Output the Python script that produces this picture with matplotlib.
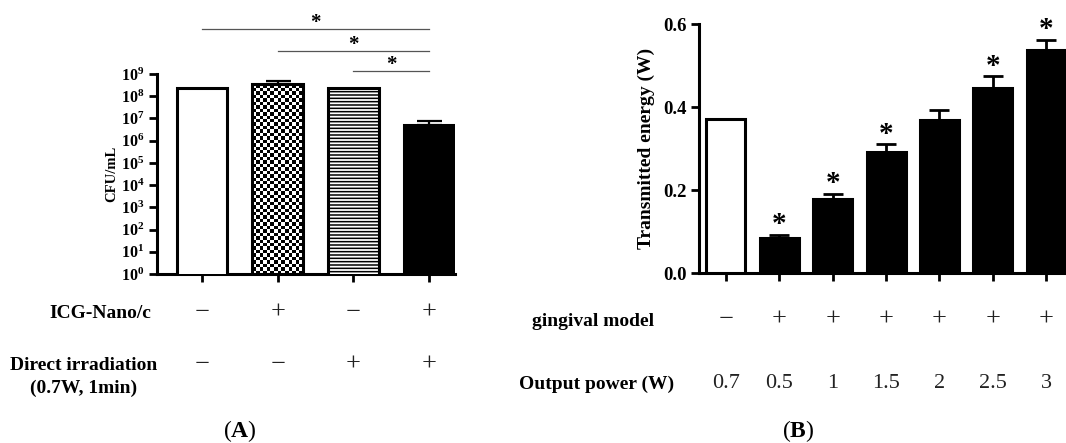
import numpy as np
import matplotlib
matplotlib.use('Agg')
import matplotlib.pyplot as plt
import matplotlib.transforms as mtransforms

plt.rcParams['font.family'] = ['Liberation Serif', 'DejaVu Serif']
plt.rcParams['mathtext.fontset'] = 'custom'
plt.rcParams['mathtext.rm'] = 'Liberation Serif:bold'
plt.rcParams['mathtext.it'] = 'Liberation Serif:bold:italic'
plt.rcParams['mathtext.bf'] = 'Liberation Serif:bold'
plt.rcParams['mathtext.default'] = 'rm'
plt.rcParams['hatch.linewidth'] = 1.1

# panel A data
groups_a = ['ctrl', 'ICG', 'irr', 'ICG+irr']
cfu = [2.3e8, 3.5e8, 2.3e8, 5.0e6]
cfu_err = [0, 1.3e8, 0, 3.0e6]
icg_row = ['\u2212', '+', '\u2212', '+']
irr_row = ['\u2212', '\u2212', '+', '+']
sig_pairs = [(0, 3), (1, 3), (2, 3)]
log_ticks = list(range(0, 10))

# panel B data
power = ['0.7', '0.5', '1', '1.5', '2', '2.5', '3']
energy = [0.371, 0.084, 0.178, 0.291, 0.369, 0.447, 0.537]
energy_err = [0, 0.008, 0.012, 0.019, 0.025, 0.027, 0.024]
gingival_row = ['\u2212', '+', '+', '+', '+', '+', '+']
star_b = [False, True, True, True, False, True, True]
yticks_b = [0.0, 0.2, 0.4, 0.6]

fig = plt.figure(figsize=(10.66, 4.43), dpi=100)


def style_axes(ax):
    for s in ['top', 'right']:
        ax.spines[s].set_visible(False)
    for s in ['left', 'bottom']:
        ax.spines[s].set_linewidth(2.2)
    ax.tick_params(axis='both', direction='out', width=2, length=5.5)
    ax.tick_params(axis='x', labelbottom=False)


# ---------------- (A) ----------------
axA = fig.add_axes([0.1473, 0.3815, 0.2795, 0.4515])
xa = np.arange(len(groups_a))
wa = 0.67
axA.set_yscale('log')
axA.set_ylim(1, 1e9)
axA.set_xlim(-0.594, 3.34)

# bar 1: open
axA.bar(xa[0], cfu[0], wa, color='white', edgecolor='black', linewidth=2.2, zorder=3)

# bar 2: checkerboard
outline = axA.bar(xa[1], cfu[1], wa, fill=False, edgecolor='black', linewidth=2.2, zorder=3)[0]
ncol = 14
xe = np.linspace(xa[1] - wa / 2, xa[1] + wa / 2, ncol + 1)
step = 0.155
ye = np.arange(0, np.log10(cfu[1]) + step, step)
ye = 10 ** ye
checker = (np.add.outer(np.arange(len(ye) - 1), np.arange(ncol)) % 2).astype(float)
mesh = axA.pcolormesh(xe, ye, checker, cmap='gray_r', vmin=0, vmax=1, zorder=2)
mesh.set_clip_path(outline)

# bar 3: horizontal lines
axA.bar(xa[2], cfu[2], wa, color='white', edgecolor='black', hatch='-----', linewidth=2.2, zorder=3)

# bar 4: solid
axA.bar(xa[3], cfu[3], wa, color='black', edgecolor='black', linewidth=2.2, zorder=3)

for i in range(len(cfu)):
    if cfu_err[i] > 0:
        axA.errorbar(xa[i], cfu[i], yerr=[[0], [cfu_err[i]]], fmt='none', ecolor='black',
                     elinewidth=1.6, capsize=9, capthick=1.6, zorder=4)

style_axes(axA)
axA.minorticks_off()
axA.set_yticks([10.0 ** k for k in log_ticks])
axA.set_yticklabels([f'$10^{{{k}}}$' for k in log_ticks], fontsize=11.5)
axA.set_xticks(xa)
axA.set_ylabel('CFU/mL', fontsize=10.5, fontweight='bold', labelpad=2)

tA = mtransforms.blended_transform_factory(axA.transData, axA.transAxes)
for (a, b), yy in zip(sig_pairs, [1.225, 1.115, 1.015]):
    axA.plot([xa[a], xa[b]], [yy, yy], color='#555555', lw=0.9, transform=tA, clip_on=False)
    axA.text((xa[a] + xa[b]) / 2, yy + 0.005, '*', fontsize=15, fontweight='bold',
             ha='center', va='baseline', transform=tA)

fA = mtransforms.blended_transform_factory(axA.transData, fig.transFigure)
for i in range(len(groups_a)):
    axA.text(xa[i], 1 - 313 / 443, icg_row[i], fontsize=19, ha='center', va='center',
             transform=fA, color='#222222')
    axA.text(xa[i], 1 - 365 / 443, irr_row[i], fontsize=19, ha='center', va='center',
             transform=fA, color='#222222')

fig.text(100 / 1066, 1 - 313 / 443, 'ICG-Nano/c', fontsize=14, fontweight='bold',
         ha='center', va='center')
fig.text(84 / 1066, 1 - 365 / 443, 'Direct irradiation', fontsize=14, fontweight='bold',
         ha='center', va='center')
fig.text(84 / 1066, 1 - 388 / 443, '(0.7W, 1min)', fontsize=14, fontweight='bold',
         ha='center', va='center')
fig.text(240 / 1066, 1 - 431 / 443, r'($\mathrm{A}$)', fontsize=17, ha='center', va='center')

# ---------------- (B) ----------------
axB = fig.add_axes([0.6557, 0.3837, 0.3443, 0.5621])
xb = np.arange(len(power))
wb = 0.73
colors_b = ['white'] + ['black'] * (len(power) - 1)
axB.bar(xb, energy, wb, color=colors_b, edgecolor='black', linewidth=2.2, zorder=3)
for i in range(len(energy)):
    if energy_err[i] > 0:
        axB.errorbar(xb[i], energy[i], yerr=[[0], [energy_err[i]]], fmt='none', ecolor='black',
                     elinewidth=2, capsize=7, capthick=2, zorder=4)
    if star_b[i]:
        axB.annotate('*', (xb[i], energy[i] + energy_err[i]), xytext=(0, 2),
                     textcoords='offset points', fontsize=21, fontweight='bold',
                     ha='center', va='baseline')

axB.set_xlim(-0.505, 6.37)
axB.set_ylim(0, 0.6)
style_axes(axB)
axB.set_yticks(yticks_b)
axB.set_yticklabels([f'{v:.1f}' for v in yticks_b], fontsize=13.5, fontweight='bold')
axB.set_xticks(xb)
axB.set_ylabel('Transmitted energy (W)', fontsize=14, fontweight='bold', labelpad=6)

fB = mtransforms.blended_transform_factory(axB.transData, fig.transFigure)
for i in range(len(power)):
    axB.text(xb[i], 1 - 320 / 443, gingival_row[i], fontsize=19, ha='center', va='center',
             transform=fB, color='#222222')
    axB.text(xb[i], 1 - 383 / 443, power[i], fontsize=16, ha='center', va='center',
             transform=fB, color='#222222')

fig.text(532 / 1066, 1 - 322 / 443, 'gingival model', fontsize=14, fontweight='bold',
         ha='left', va='center')
fig.text(519 / 1066, 1 - 384 / 443, 'Output power (W)', fontsize=14, fontweight='bold',
         ha='left', va='center')
fig.text(798 / 1066, 1 - 431 / 443, r'($\mathrm{B}$)', fontsize=17, ha='center', va='center')

fig.savefig('out.png', dpi=100)
